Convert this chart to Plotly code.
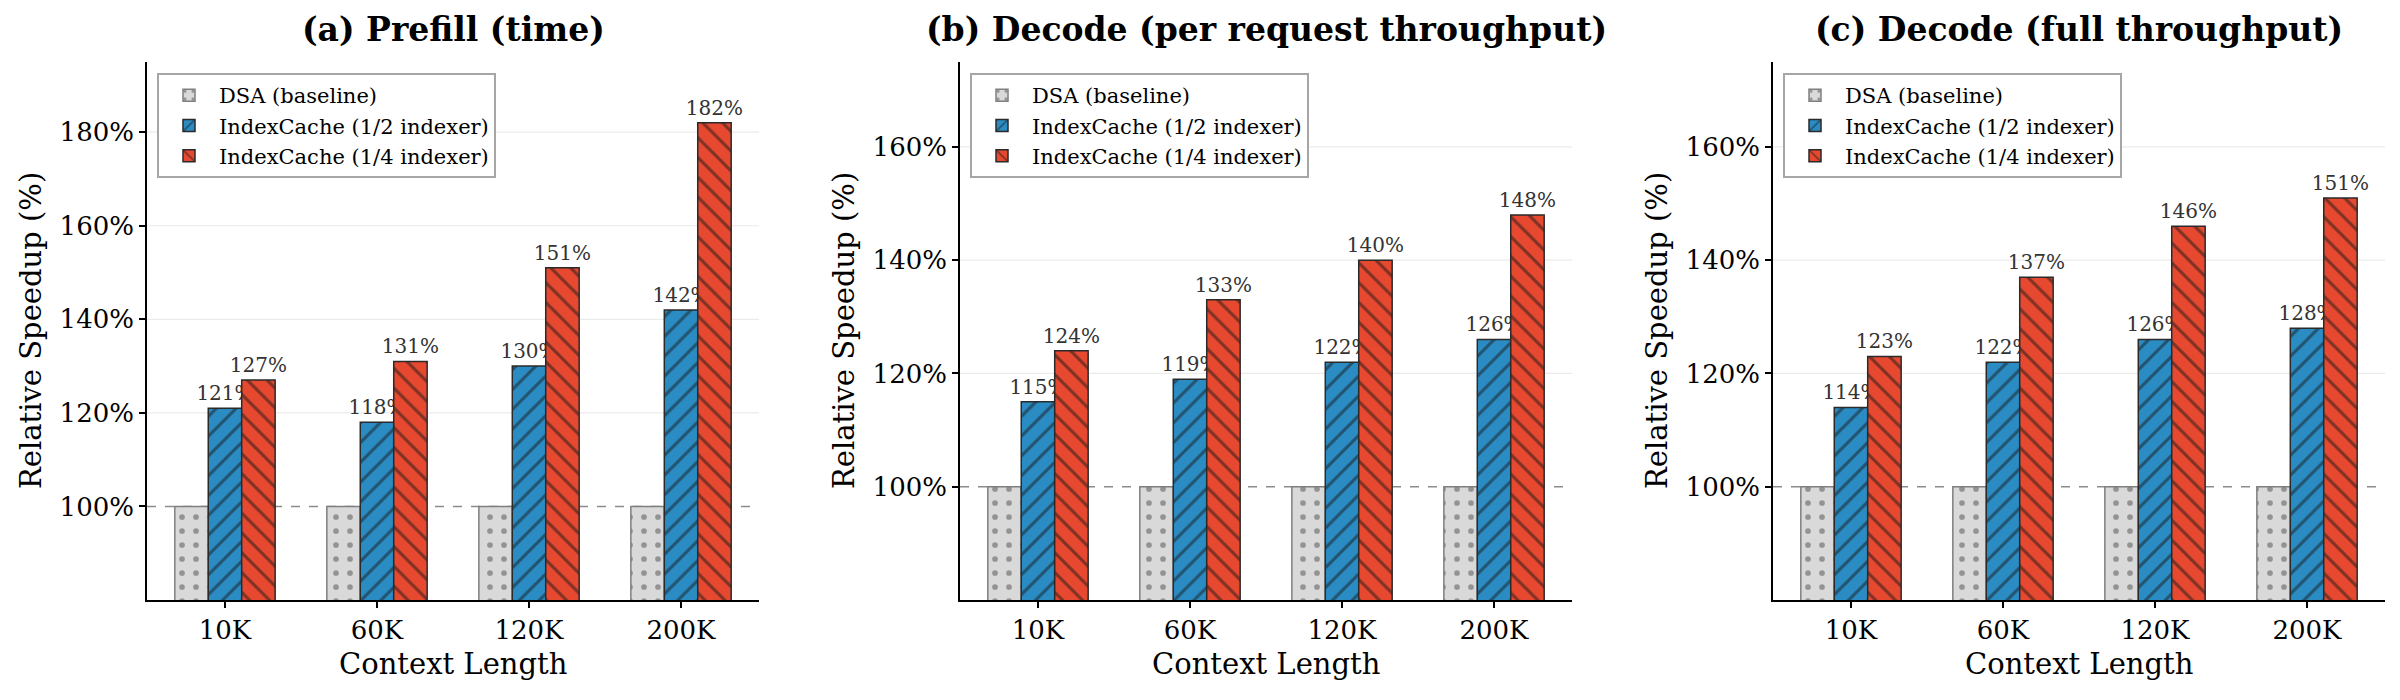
import plotly.graph_objects as go

# ---------------- data ----------------
categories = ["10K", "60K", "120K", "200K"]
series_names = ["DSA (baseline)", "IndexCache (1/2 indexer)", "IndexCache (1/4 indexer)"]
panel_titles = ["(a) Prefill (time)", "(b) Decode (per request throughput)", "(c) Decode (full throughput)"]

baseline = [100, 100, 100, 100]
prefill_half = [121, 118, 130, 142]
prefill_quarter = [127, 131, 151, 182]
decode_req_half = [115, 119, 122, 126]
decode_req_quarter = [124, 133, 140, 148]
decode_full_half = [114, 122, 126, 128]
decode_full_quarter = [123, 137, 146, 151]

y_range_a = [80, 195]
y_range_bc = [80, 175]
y_ticks_a = [100, 120, 140, 160, 180]
y_ticks_bc = [100, 120, 140, 160]
reference_level = 100

panels = [
    (prefill_half, prefill_quarter, y_range_a, y_ticks_a),
    (decode_req_half, decode_req_quarter, y_range_bc, y_ticks_bc),
    (decode_full_half, decode_full_quarter, y_range_bc, y_ticks_bc),
]

# ---------------- style ----------------
W, H = 2400, 700
FONT = "DejaVu Serif"
px_domains = [(147, 759), (960, 1572), (1773, 2385)]
plot_top, plot_bottom = 62, 600
ydom = [1 - plot_bottom / H, 1 - plot_top / H]

styles = [
    dict(color="#d9d9d9", fg="#4d4d4d", shape=".", line="#7f7f7f", size=14, solidity=0.13),
    dict(color="#2b8cc4", fg="#1a1a1a", shape="/", line="#2a2a2a", size=14, solidity=0.22),
    dict(color="#e6492f", fg="#1a1a1a", shape="\\", line="#2a2a2a", size=14, solidity=0.22),
]

fig = go.Figure()
annotations = []
shapes = []
layout = {}

for i, (half, quarter, yr, yt) in enumerate(panels):
    s = "" if i == 0 else str(i + 1)
    values = [baseline, half, quarter]
    for j, (name, vals, st) in enumerate(zip(series_names, values, styles)):
        kw = {}
        if j > 0:
            kw = dict(
                text=[f"{v:.0f}%" for v in vals],
                textposition="outside",
                textfont=dict(family=FONT, size=20, color="#333333"),
                outsidetextfont=dict(family=FONT, size=20, color="#333333"),
                constraintext="none",
            )
        fig.add_trace(go.Bar(
            x=categories, y=vals, name=name,
            xaxis="x" + s, yaxis="y" + s, legend="legend" + s,
            marker=dict(
                color=st["color"],
                line=dict(color=st["line"], width=1.5),
                pattern=dict(shape=st["shape"], fgcolor=st["fg"], bgcolor=st["color"],
                             size=st["size"], solidity=st["solidity"], fillmode="overlay"),
            ),
            cliponaxis=False,
            showlegend=True,
            **kw,
        ))

    x0, x1 = px_domains[i]
    layout["xaxis" + s] = dict(
        domain=[x0 / W, x1 / W], anchor="y" + s,
        type="category", range=[-0.513, 3.513],
        showline=True, linecolor="black", linewidth=1.7,
        ticks="outside", ticklen=6, tickwidth=1.5, tickcolor="black",
        tickfont=dict(family=FONT, size=26, color="black"),
        showgrid=False, zeroline=False,
    )
    layout["yaxis" + s] = dict(
        domain=ydom, anchor="x" + s,
        range=yr, tickmode="array", tickvals=yt,
        ticktext=[f"{t}%" for t in yt],
        showline=True, linecolor="black", linewidth=1.7,
        ticks="outside", ticklen=6, tickwidth=1.5, tickcolor="black",
        tickfont=dict(family=FONT, size=26, color="black"),
        showgrid=False, zeroline=False,
    )
    layout["legend" + s] = dict(
        x=(x0 + 10) / W, y=1 - 73 / H, xanchor="left", yanchor="top",
        xref="paper", yref="paper",
        bgcolor="rgba(255,255,255,0.9)", bordercolor="#a6a6a6", borderwidth=2,
        font=dict(family=FONT, size=21, color="black"),
        traceorder="normal", itemwidth=50,
    )
    for t in yt:
        if t == reference_level:
            continue
        shapes.append(dict(
            type="line", xref="x" + s + " domain", yref="y" + s,
            x0=0, x1=1, y0=t, y1=t,
            line=dict(color="#ebebeb", width=1.2), layer="below",
        ))
    shapes.append(dict(
        type="line", xref="x" + s + " domain", yref="y" + s,
        x0=0, x1=1, y0=reference_level, y1=reference_level,
        line=dict(color="#8c8c8c", width=1.5, dash="dash"), layer="below",
    ))
    cx = (x0 + x1) / 2 / W
    annotations.append(dict(
        text="<b>" + panel_titles[i] + "</b>", x=cx, y=1 - 30 / H,
        xref="paper", yref="paper", xanchor="center", yanchor="middle",
        showarrow=False, font=dict(family=FONT, size=33, color="black"),
    ))
    annotations.append(dict(
        text="Context Length", x=cx, y=1 - 664 / H,
        xref="paper", yref="paper", xanchor="center", yanchor="middle",
        showarrow=False, font=dict(family=FONT, size=29, color="black"),
    ))
    annotations.append(dict(
        text="Relative Speedup (%)", x=(x0 - 116) / W, y=1 - 331 / H,
        xref="paper", yref="paper", xanchor="center", yanchor="middle",
        textangle=-90,
        showarrow=False, font=dict(family=FONT, size=29, color="black"),
    ))

fig.update_layout(
    width=W, height=H,
    margin=dict(l=0, r=0, t=0, b=0),
    paper_bgcolor="white", plot_bgcolor="white",
    barmode="group", bargap=0.34, bargroupgap=0,
    font=dict(family=FONT),
    annotations=annotations, shapes=shapes,
    **layout,
)

fig.write_html("out.html")
